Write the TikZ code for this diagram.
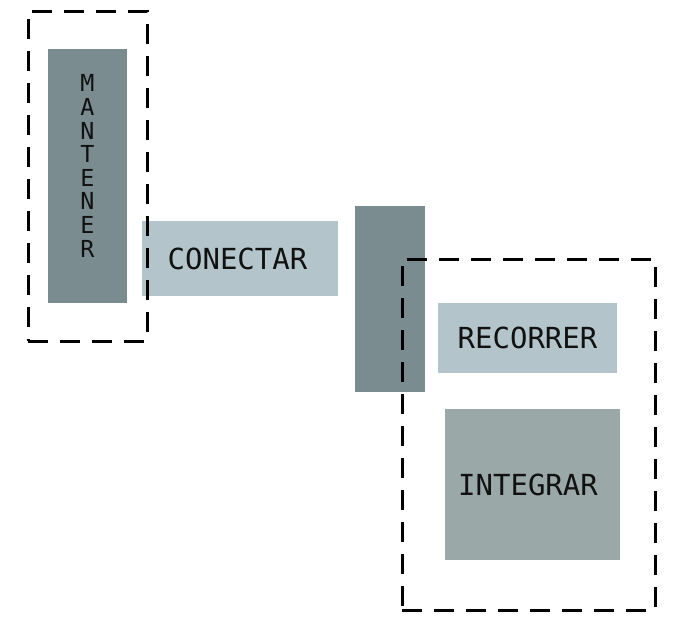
\documentclass[tikz,border=0pt]{standalone}
\usepackage{fontspec}
\setmonofont{DejaVu Sans Mono}
\definecolor{darkbox}{HTML}{7A8C90}
\definecolor{lightbox}{HTML}{B3C5CA}
\definecolor{midbox}{HTML}{9BA8A8}
\definecolor{txt}{HTML}{111111}
\begin{document}
\begin{tikzpicture}[x=1pt,y=-1pt,
  blk/.style={inner sep=0pt, outer sep=0pt, text=txt, font=\ttfamily\fontsize{29}{23.6}\selectfont},
  dbox/.style={draw=black, line width=3pt, dash pattern=on 20pt off 12pt, inner sep=0pt, fill=none}]
\useasboundingbox (0,0) rectangle (674,637);
\fill[white] (0,0) rectangle (674,637);
% boxes
\node[blk, fill=darkbox, minimum width=79pt, minimum height=254pt] (mant) at (87.5,176) {};
\node[blk, align=center, font=\ttfamily\fontsize{23.4}{23.6}\selectfont] (manttxt) at (87.5,166) {M\\A\\N\\T\\E\\N\\E\\R};
\node[blk, fill=lightbox, minimum width=196pt, minimum height=75pt] (con) at (240,258.5) {\hspace*{-5pt}CONECTAR};
\node[blk, fill=darkbox, minimum width=70pt, minimum height=186pt] (mid) at (390,299) {};
\node[blk, fill=lightbox, minimum width=179pt, minimum height=70pt] (rec) at (527.5,338) {RECORRER};
\node[blk, fill=midbox, minimum width=175pt, minimum height=151pt] (int) at (532.5,484.5) {\hspace*{-9pt}INTEGRAR};
% dashed groups
\node[dbox, minimum width=119pt, minimum height=330pt] (g1) at (87.5,176) {};
\node[dbox, minimum width=253pt, minimum height=351pt] (g2) at (528.5,434.5) {};
\end{tikzpicture}
\end{document}
